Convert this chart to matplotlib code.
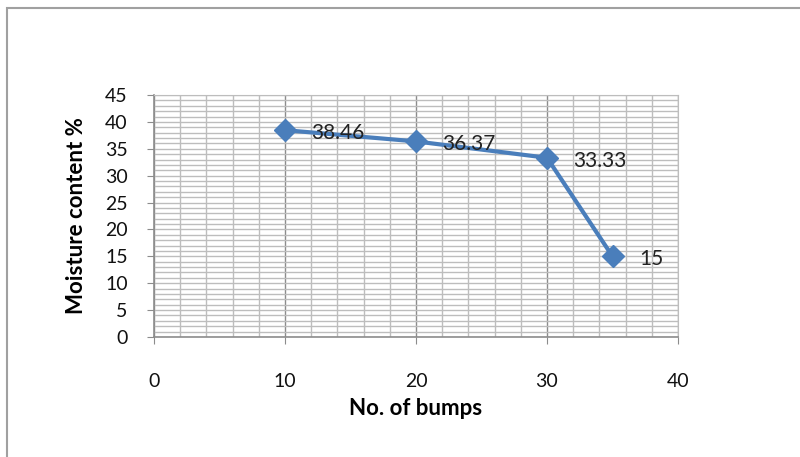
import matplotlib.pyplot as plt
from matplotlib.patches import Rectangle
from matplotlib.ticker import MultipleLocator

plt.rcParams['font.family'] = ['Lato', 'DejaVu Sans']

bumps = [10, 20, 30, 35]
moisture = [38.46, 36.37, 33.33, 15]
labels = ['38.46', '36.37', '33.33', '15']

fig = plt.figure(figsize=(8, 4.57), dpi=100)

# outer chart frame (runs off the right and bottom edge)
fig.patches.append(Rectangle((7 / 800, -0.1), 1.1, 1 - 8 / 457 + 0.1,
                             transform=fig.transFigure, fill=False,
                             edgecolor='#a0a0a0', linewidth=1.5))

ax = fig.add_axes([154 / 800, 1 - 337 / 457, (678 - 154) / 800, (337 - 95) / 457])

ax.set_xlim(0, 40)
ax.set_ylim(0, 45)
ax.xaxis.set_major_locator(MultipleLocator(10))
ax.xaxis.set_minor_locator(MultipleLocator(2))
ax.yaxis.set_major_locator(MultipleLocator(5))
ax.yaxis.set_minor_locator(MultipleLocator(1))

ax.grid(which='minor', color='#bdbdbd', linewidth=1.0)
ax.grid(which='major', axis='y', color='#bdbdbd', linewidth=1.0)
ax.grid(which='major', axis='x', color='#8c8c8c', linewidth=1.0)
ax.set_axisbelow(True)

for side in ['top', 'right']:
    ax.spines[side].set_color('#bdbdbd')
for side in ['left', 'bottom']:
    ax.spines[side].set_color('#8c8c8c')
    ax.spines[side].set_linewidth(1.2)

ax.tick_params(which='major', direction='out', length=5, color='#8c8c8c',
               labelsize=14, labelcolor='#111111')
ax.tick_params(which='minor', length=0)
ax.tick_params(axis='x', pad=21)
ax.tick_params(axis='y', pad=14)

ax.plot(bumps, moisture, color='#4a7ebb', linewidth=3, marker='D',
        markersize=11, zorder=3, clip_on=False)

for x, y, t in zip(bumps, moisture, labels):
    ax.annotate(t, (x, y), xytext=(19, -2), textcoords='offset points',
                ha='left', va='center', fontsize=15, color='#222222')

ax.set_xlabel('No. of bumps', fontsize=16, fontweight='bold', labelpad=6)
ax.set_ylabel('Moisture content %', fontsize=16, fontweight='bold', labelpad=13)

fig.savefig('out.png', dpi=100)
